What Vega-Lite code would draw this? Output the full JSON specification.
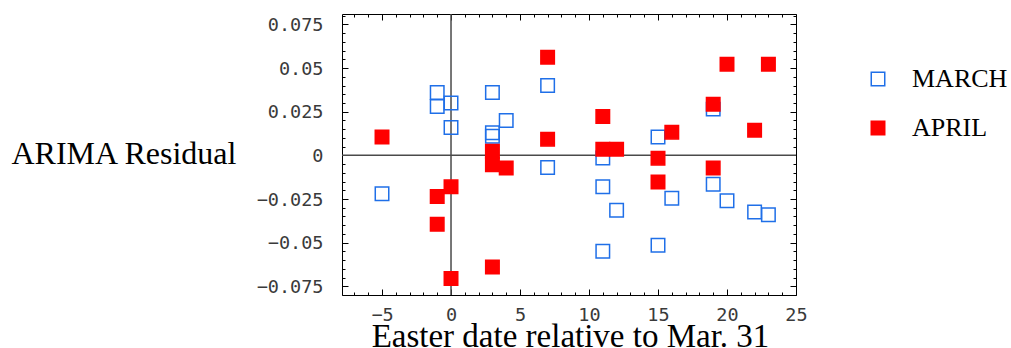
{
  "$schema": "https://vega.github.io/schema/vega-lite/v6.json",
  "width": 454,
  "height": 281,
  "autosize": {"type": "none"},
  "padding": {"left": 342, "top": 14, "right": 215, "bottom": 53},
  "background": "white",
  "config": {
    "view": {"stroke": "black", "strokeWidth": 1},
    "axis": {"grid": false, "domain": false, "tickColor": "black", "tickWidth": 1, "labelFont": "DejaVu Sans Mono", "labelFontSize": 18.5, "labelColor": "#3a3a3a", "titleFont": "Liberation Serif", "titleFontWeight": "normal", "titleColor": "black", "labelFlush": false, "labelOverlap": false},
    "legend": {"labelFont": "Liberation Serif", "labelFontSize": 26, "labelColor": "black", "symbolStrokeWidth": 1.5, "symbolSize": 182, "padding": 0}
  },
  "datasets": {
    "pts": [
      {"x": -5, "y": -0.022, "month": "MARCH"},
      {"x": -1, "y": 0.036, "month": "MARCH"},
      {"x": -1, "y": 0.028, "month": "MARCH"},
      {"x": 0, "y": 0.030, "month": "MARCH"},
      {"x": 0, "y": 0.016, "month": "MARCH"},
      {"x": 3, "y": 0.036, "month": "MARCH"},
      {"x": 3, "y": 0.013, "month": "MARCH"},
      {"x": 3, "y": 0.011, "month": "MARCH"},
      {"x": 4, "y": 0.020, "month": "MARCH"},
      {"x": 7, "y": 0.040, "month": "MARCH"},
      {"x": 7, "y": -0.007, "month": "MARCH"},
      {"x": 11, "y": -0.0015, "month": "MARCH"},
      {"x": 11, "y": -0.018, "month": "MARCH"},
      {"x": 11, "y": -0.055, "month": "MARCH"},
      {"x": 12, "y": -0.0315, "month": "MARCH"},
      {"x": 15, "y": 0.0105, "month": "MARCH"},
      {"x": 15, "y": -0.0515, "month": "MARCH"},
      {"x": 16, "y": -0.0245, "month": "MARCH"},
      {"x": 19, "y": 0.0265, "month": "MARCH"},
      {"x": 19, "y": -0.0165, "month": "MARCH"},
      {"x": 20, "y": -0.026, "month": "MARCH"},
      {"x": 22, "y": -0.0325, "month": "MARCH"},
      {"x": 23, "y": -0.034, "month": "MARCH"},
      {"x": -5, "y": 0.0105, "month": "APRIL"},
      {"x": -1, "y": -0.0235, "month": "APRIL"},
      {"x": -1, "y": -0.0395, "month": "APRIL"},
      {"x": 0, "y": -0.018, "month": "APRIL"},
      {"x": 0, "y": -0.0705, "month": "APRIL"},
      {"x": 3, "y": -0.064, "month": "APRIL"},
      {"x": 3, "y": 0.0023, "month": "APRIL"},
      {"x": 3, "y": -0.0054, "month": "APRIL"},
      {"x": 4, "y": -0.0073, "month": "APRIL"},
      {"x": 7, "y": 0.0562, "month": "APRIL"},
      {"x": 7, "y": 0.0093, "month": "APRIL"},
      {"x": 11, "y": 0.0223, "month": "APRIL"},
      {"x": 11, "y": 0.0035, "month": "APRIL"},
      {"x": 12, "y": 0.0035, "month": "APRIL"},
      {"x": 15, "y": -0.0016, "month": "APRIL"},
      {"x": 15, "y": -0.0153, "month": "APRIL"},
      {"x": 16, "y": 0.0133, "month": "APRIL"},
      {"x": 19, "y": 0.0293, "month": "APRIL"},
      {"x": 19, "y": -0.0073, "month": "APRIL"},
      {"x": 20, "y": 0.0522, "month": "APRIL"},
      {"x": 22, "y": 0.0144, "month": "APRIL"},
      {"x": 23, "y": 0.0522, "month": "APRIL"}
    ],
    "origin": [{"x": 0, "y": 0}]
  },
  "resolve": {"axis": {"x": "independent", "y": "independent"}},
  "layer": [
    {
      "data": {"name": "origin"},
      "mark": {"type": "rule", "color": "#4a4a4a", "strokeWidth": 1.5},
      "encoding": {
        "x": {"field": "x", "type": "quantitative", "scale": {"domain": [-7.9, 25], "nice": false, "zero": false}, "axis": null}
      }
    },
    {
      "data": {"name": "origin"},
      "mark": {"type": "rule", "color": "#4a4a4a", "strokeWidth": 1.5},
      "encoding": {
        "y": {"field": "y", "type": "quantitative", "scale": {"domain": [-0.08, 0.081], "nice": false, "zero": false}, "axis": null}
      }
    },
    {
      "data": {"name": "origin"},
      "mark": {"type": "point", "opacity": 0},
      "encoding": {
        "x": {"field": "x", "type": "quantitative", "scale": {"domain": [-7.9, 25], "nice": false, "zero": false},
          "axis": {"orient": "bottom", "values": [-7,-6,-4,-3,-2,-1,1,2,3,4,6,7,8,9,11,12,13,14,16,17,18,19,21,22,23,24], "tickSize": -3, "labels": false, "title": null}},
        "y": {"field": "y", "type": "quantitative", "scale": {"domain": [-0.08, 0.081], "nice": false, "zero": false},
          "axis": {"orient": "left", "values": [-0.08,-0.07,-0.065,-0.06,-0.055,-0.045,-0.04,-0.035,-0.03,-0.02,-0.015,-0.01,-0.005,0.005,0.01,0.015,0.02,0.03,0.035,0.04,0.045,0.055,0.06,0.065,0.07,0.08], "tickSize": -3, "labels": false, "title": null}}
      }
    },
    {
      "data": {"name": "origin"},
      "mark": {"type": "point", "opacity": 0},
      "encoding": {
        "x": {"field": "x", "type": "quantitative", "scale": {"domain": [-7.9, 25], "nice": false, "zero": false},
          "axis": {"orient": "top", "values": [-7,-6,-4,-3,-2,-1,1,2,3,4,6,7,8,9,11,12,13,14,16,17,18,19,21,22,23,24], "tickSize": -3, "labels": false, "title": null}},
        "y": {"field": "y", "type": "quantitative", "scale": {"domain": [-0.08, 0.081], "nice": false, "zero": false},
          "axis": {"orient": "right", "values": [-0.08,-0.07,-0.065,-0.06,-0.055,-0.045,-0.04,-0.035,-0.03,-0.02,-0.015,-0.01,-0.005,0.005,0.01,0.015,0.02,0.03,0.035,0.04,0.045,0.055,0.06,0.065,0.07,0.08], "tickSize": -3, "labels": false, "title": null}}
      }
    },
    {
      "data": {"name": "origin"},
      "mark": {"type": "point", "opacity": 0},
      "encoding": {
        "x": {"field": "x", "type": "quantitative", "scale": {"domain": [-7.9, 25], "nice": false, "zero": false},
          "axis": {"orient": "top", "values": [-5,0,5,10,15,20,25], "tickSize": -6, "labels": false, "title": null}},
        "y": {"field": "y", "type": "quantitative", "scale": {"domain": [-0.08, 0.081], "nice": false, "zero": false},
          "axis": {"orient": "right", "values": [-0.075,-0.05,-0.025,0,0.025,0.05,0.075], "tickSize": -6, "labels": false, "title": null}}
      }
    },
    {
      "data": {"name": "pts"},
      "mark": {"type": "point", "shape": "square", "size": 182, "strokeWidth": 1.5, "opacity": 1},
      "encoding": {
        "x": {"field": "x", "type": "quantitative", "scale": {"domain": [-7.9, 25], "nice": false, "zero": false},
          "axis": {"orient": "bottom", "values": [-5,0,5,10,15,20,25], "format": "d", "tickSize": -6, "labelPadding": 16,
            "title": "Easter date relative to Mar. 31", "titleFontSize": 33, "titleX": 228, "titleY": 51, "titleAlign": "center", "titleBaseline": "alphabetic"}},
        "y": {"field": "y", "type": "quantitative", "scale": {"domain": [-0.08, 0.081], "nice": false, "zero": false},
          "axis": {"orient": "left", "values": [-0.075,-0.05,-0.025,0,0.025,0.05,0.075], "format": ".3~f", "tickSize": -6, "labelPadding": 25,
            "title": "ARIMA Residual", "titleFontSize": 32, "titleAngle": 0, "titleX": -331, "titleY": 149, "titleAlign": "left", "titleBaseline": "alphabetic"}},
        "fill": {"field": "month", "type": "nominal", "scale": {"domain": ["MARCH", "APRIL"], "range": ["rgba(255,255,255,0)", "#ff0000"]},
          "legend": {"title": null, "orient": "none", "legendX": 523, "legendY": 52, "labelOffset": 21, "rowPadding": 23, "labelBaseline": "middle"}},
        "stroke": {"field": "month", "type": "nominal", "scale": {"domain": ["MARCH", "APRIL"], "range": ["#1f6fe8", "#ff0000"]},
          "legend": {"title": null, "orient": "none", "legendX": 523, "legendY": 52, "labelOffset": 21, "rowPadding": 23, "labelBaseline": "middle"}},
        "order": {"field": "month", "sort": "descending"}
      }
    }
  ]
}
